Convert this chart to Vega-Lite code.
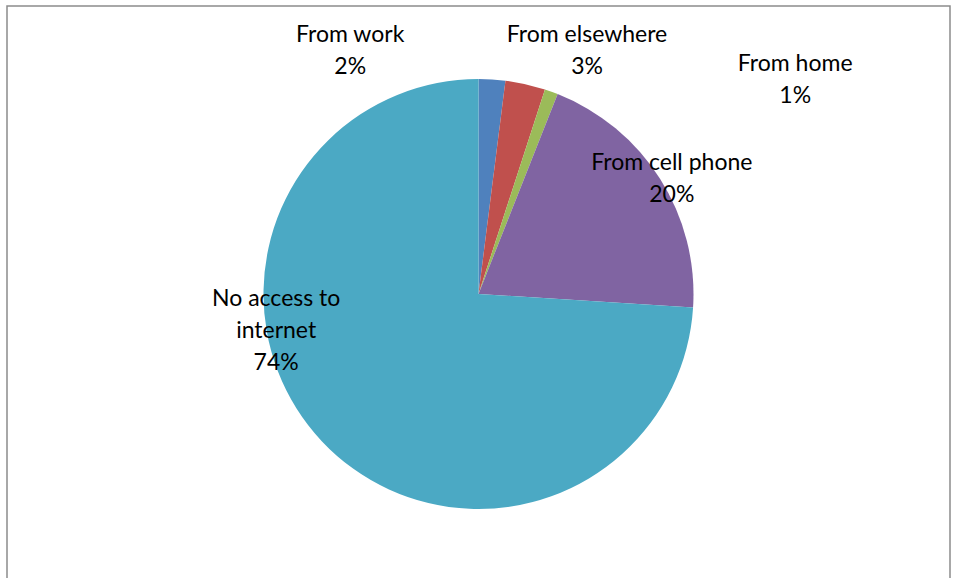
{
  "$schema": "https://vega.github.io/schema/vega-lite/v6.json",
  "width": 958,
  "height": 578,
  "autosize": {"type": "fit", "contains": "padding"},
  "padding": {"left": 7, "top": 6, "right": 8, "bottom": -4},
  "background": "white",
  "view": {"stroke": "#8c8c8c", "strokeWidth": 1.5},
  "data": {
    "values": [
      {"category": "From work", "value": 2, "label": "From work\n2%", "order": 1},
      {"category": "From elsewhere", "value": 3, "label": "From elsewhere\n3%", "order": 2},
      {"category": "From home", "value": 1, "label": "From home\n1%", "order": 3},
      {"category": "From cell phone", "value": 20, "label": "From cell phone\n20%", "order": 4},
      {"category": "No access to internet", "value": 74, "label": "No access to\ninternet\n74%", "order": 5}
    ]
  },
  "encoding": {
    "theta": {"field": "value", "type": "quantitative", "stack": true},
    "order": {"field": "order", "type": "quantitative"}
  },
  "layer": [
    {
      "mark": {"type": "arc", "outerRadius": 215},
      "encoding": {
        "color": {
          "field": "category",
          "type": "nominal",
          "scale": {
            "domain": ["From work", "From elsewhere", "From home", "From cell phone", "No access to internet"],
            "range": ["#4F81BD", "#C0504D", "#9BBB59", "#8064A2", "#4BA9C4"]
          },
          "legend": null
        }
      }
    },
    {
      "mark": {"type": "text", "radius": 250, "align": "center", "baseline": "middle", "dx": -144, "dy": -9, "fontSize": 23, "lineHeight": 32, "font": "Lato", "lineBreak": "\n", "color": "black"},
      "encoding": {"text": {"condition": {"test": "datum.category === 'From work'", "field": "label"}, "value": ""}}
    },
    {
      "mark": {"type": "text", "radius": 250, "align": "center", "baseline": "middle", "dx": 54, "dy": -15, "fontSize": 23, "lineHeight": 32, "font": "Lato", "lineBreak": "\n", "color": "black"},
      "encoding": {"text": {"condition": {"test": "datum.category === 'From elsewhere'", "field": "label"}, "value": ""}}
    },
    {
      "mark": {"type": "text", "radius": 250, "align": "center", "baseline": "middle", "dx": 232, "dy": 5, "fontSize": 23, "lineHeight": 32, "font": "Lato", "lineBreak": "\n", "color": "black"},
      "encoding": {"text": {"condition": {"test": "datum.category === 'From home'", "field": "label"}, "value": ""}}
    },
    {
      "mark": {"type": "text", "radius": 165, "align": "center", "baseline": "middle", "dx": 54, "dy": -43, "fontSize": 23, "lineHeight": 32, "font": "Lato", "lineBreak": "\n", "color": "black"},
      "encoding": {"text": {"condition": {"test": "datum.category === 'From cell phone'", "field": "label"}, "value": ""}}
    },
    {
      "mark": {"type": "text", "radius": 150, "align": "center", "baseline": "middle", "dx": -93, "dy": -98, "fontSize": 23, "lineHeight": 32, "font": "Lato", "lineBreak": "\n", "color": "black"},
      "encoding": {"text": {"condition": {"test": "datum.category === 'No access to internet'", "field": "label"}, "value": ""}}
    }
  ]
}
